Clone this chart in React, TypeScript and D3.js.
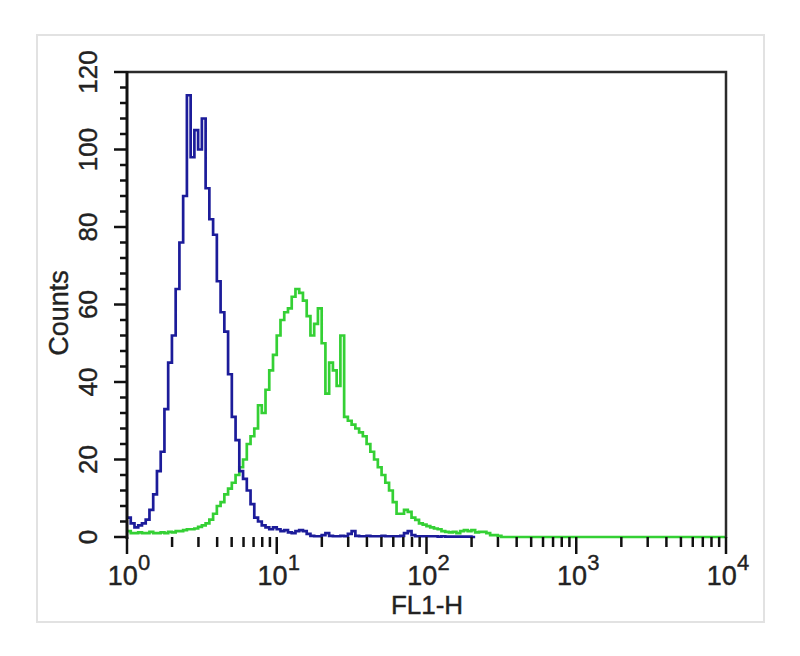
import { useEffect, useRef } from "react";
import * as d3 from "d3";

// channel counts, one bin per 1/40 decade starting at 10^0
const blueCounts = [
  5, 3.5, 2.5, 3, 3.5, 4.5, 7, 11, 17, 22,
  33, 45, 52, 64, 76, 88, 114, 98, 105, 100,
  108, 90, 82, 78, 66, 58, 53, 42, 31, 25,
  17, 15, 12, 8.5, 5, 4, 3, 2.5, 2, 2.5,
  2, 1.5, 1.8, 1.2, 1, 1.5, 1.8, 1.5, 0.8, 0.3,
  0.2, 0.2, 0.5, 1, 0.3, 0.2, 0.2, 0.3, 0.2, 0.8,
  1.5, 0.3, 0.2, 0.2, 0.3, 0.2, 0.2, 0.2, 0.3, 0.2,
  0.2, 0.2, 0.2, 0.3, 1, 1.5, 0.5, 0.2, 0.2, 0.2,
  0.2, 0.2, 0.2, 0.1, 0.2, 0.1, 0.1, 0.1, 0.1, 0.1,
  0.1, 0.1, 0
];

const greenCounts = [
  1.5, 1, 1, 1.2, 1, 1, 1.3, 1, 1, 1.2,
  1, 1.3, 1.2, 1.5, 1.5, 1.8, 2, 2, 2.2, 2.6,
  3, 3.5, 4.5, 6, 8, 9, 11, 12.5, 14, 16,
  18, 20, 24, 26, 28, 34, 32, 38, 43, 47,
  52, 56, 58, 59, 62, 64, 63, 61, 57, 52,
  55, 59, 50, 37, 45, 43, 39, 52, 31, 30,
  29, 28, 27, 26, 24, 22, 20, 18, 16, 14,
  12, 9, 6, 6, 7, 6.5, 5, 4.4, 3.5, 3.2,
  2.8, 2.5, 2.2, 2, 1.5, 1.3, 1.2, 1.3, 1, 1.5,
  1.8, 1.5, 1.8, 1.2, 1.3, 1.3, 1, 0.5, 0.5, 0.3,
  0
];

const binsPerDecade = 40;
const xDecades = [0, 1, 2, 3, 4];
const yMajorTicks = [0, 20, 40, 60, 80, 100, 120];

export default function App() {
  const svgRef = useRef<SVGSVGElement>(null);

  useEffect(() => {
    if (!svgRef.current) return;
    const svg = d3.select(svgRef.current);
    svg.selectAll("*").remove();

    const left = 127, right = 726, top = 72, bottom = 537;
    const x = d3.scaleLog().domain([1, 10000]).range([left, right]);
    const y = d3.scaleLinear().domain([0, 120]).range([bottom, top]);
    const font = "Liberation Sans, Arial, sans-serif";

    svg.append("rect").attr("width", 800).attr("height", 656).attr("fill", "#fff");

    // outer light border
    svg.append("rect")
      .attr("x", 37).attr("y", 35).attr("width", 727).attr("height", 587)
      .attr("fill", "none").attr("stroke", "#e2e2e2").attr("stroke-width", 2);

    const toPoints = (counts: number[]) => {
      const pts: [number, number][] = counts.map((c, i) => [Math.pow(10, i / binsPerDecade), c]);
      pts.push([Math.pow(10, counts.length / binsPerDecade), counts[counts.length - 1]]);
      return pts;
    };

    const line = d3.line<[number, number]>()
      .x(d => x(d[0]))
      .y(d => y(d[1]))
      .curve(d3.curveStepAfter);

    // green tail runs along baseline to the end of the axis
    const greenPts = toPoints(greenCounts);
    greenPts.push([10000, 0]);

    svg.append("path")
      .attr("d", line(greenPts))
      .attr("fill", "none")
      .attr("stroke", "#34d034")
      .attr("stroke-width", 2.7);

    svg.append("path")
      .attr("d", line(toPoints(blueCounts)))
      .attr("fill", "none")
      .attr("stroke", "#1c1c9a")
      .attr("stroke-width", 2.7);

    // frame
    svg.append("path")
      .attr("d", `M${left},${top}H${right}V${bottom + 1}`)
      .attr("fill", "none").attr("stroke", "#2b2b2b").attr("stroke-width", 2.5);
    svg.append("line")
      .attr("x1", left).attr("x2", left).attr("y1", top - 1).attr("y2", bottom + 2)
      .attr("stroke", "#111").attr("stroke-width", 3);

    // y ticks
    const yAxis = svg.append("g");
    d3.range(0, 121, 4).forEach(v => {
      const major = v % 20 === 0;
      yAxis.append("line")
        .attr("x1", major ? left - 13 : left - 7).attr("x2", left)
        .attr("y1", y(v)).attr("y2", y(v))
        .attr("stroke", "#111").attr("stroke-width", 2.5);
    });
    yMajorTicks.forEach(v => {
      yAxis.append("text")
        .attr("transform", `translate(97,${y(v)}) rotate(-90)`)
        .attr("text-anchor", "middle")
        .attr("font-family", font)
        .attr("font-size", 26)
        .attr("fill", "#222")
        .attr("stroke", "#222").attr("stroke-width", 0.4)
        .text(v);
    });

    svg.append("text")
      .attr("transform", `translate(68,313) rotate(-90)`)
      .attr("text-anchor", "middle")
      .attr("font-family", font)
      .attr("font-size", 27)
      .attr("fill", "#222")
      .attr("stroke", "#222").attr("stroke-width", 0.4)
      .text("Counts");

    // x ticks
    const xAxis = svg.append("g");
    xDecades.forEach(d => {
      const base = Math.pow(10, d);
      xAxis.append("line")
        .attr("x1", x(base)).attr("x2", x(base))
        .attr("y1", bottom).attr("y2", bottom + 17)
        .attr("stroke", "#111").attr("stroke-width", 2.5);
      if (d < 4) {
        d3.range(2, 10).forEach(m => {
          xAxis.append("line")
            .attr("x1", x(base * m)).attr("x2", x(base * m))
            .attr("y1", bottom).attr("y2", bottom + 10)
            .attr("stroke", "#111").attr("stroke-width", 2.5);
        });
      }
      const t = xAxis.append("text")
        .attr("x", x(base) + 2).attr("y", 585)
        .attr("text-anchor", "middle")
        .attr("font-family", font)
        .attr("fill", "#222")
        .attr("stroke", "#222").attr("stroke-width", 0.4);
      t.append("tspan").attr("font-size", 27).text("10");
      t.append("tspan").attr("font-size", 22).attr("dy", -15).text(String(d));
    });

    svg.append("text")
      .attr("x", 427).attr("y", 614)
      .attr("text-anchor", "middle")
      .attr("font-family", font)
      .attr("font-size", 26)
      .attr("fill", "#222")
      .attr("stroke", "#222").attr("stroke-width", 0.4)
      .text("FL1-H");
  }, []);

  return (
    <svg
      ref={svgRef}
      width={800}
      height={656}
      style={{ position: "absolute", left: 0, top: 0, display: "block" }}
    />
  );
}
